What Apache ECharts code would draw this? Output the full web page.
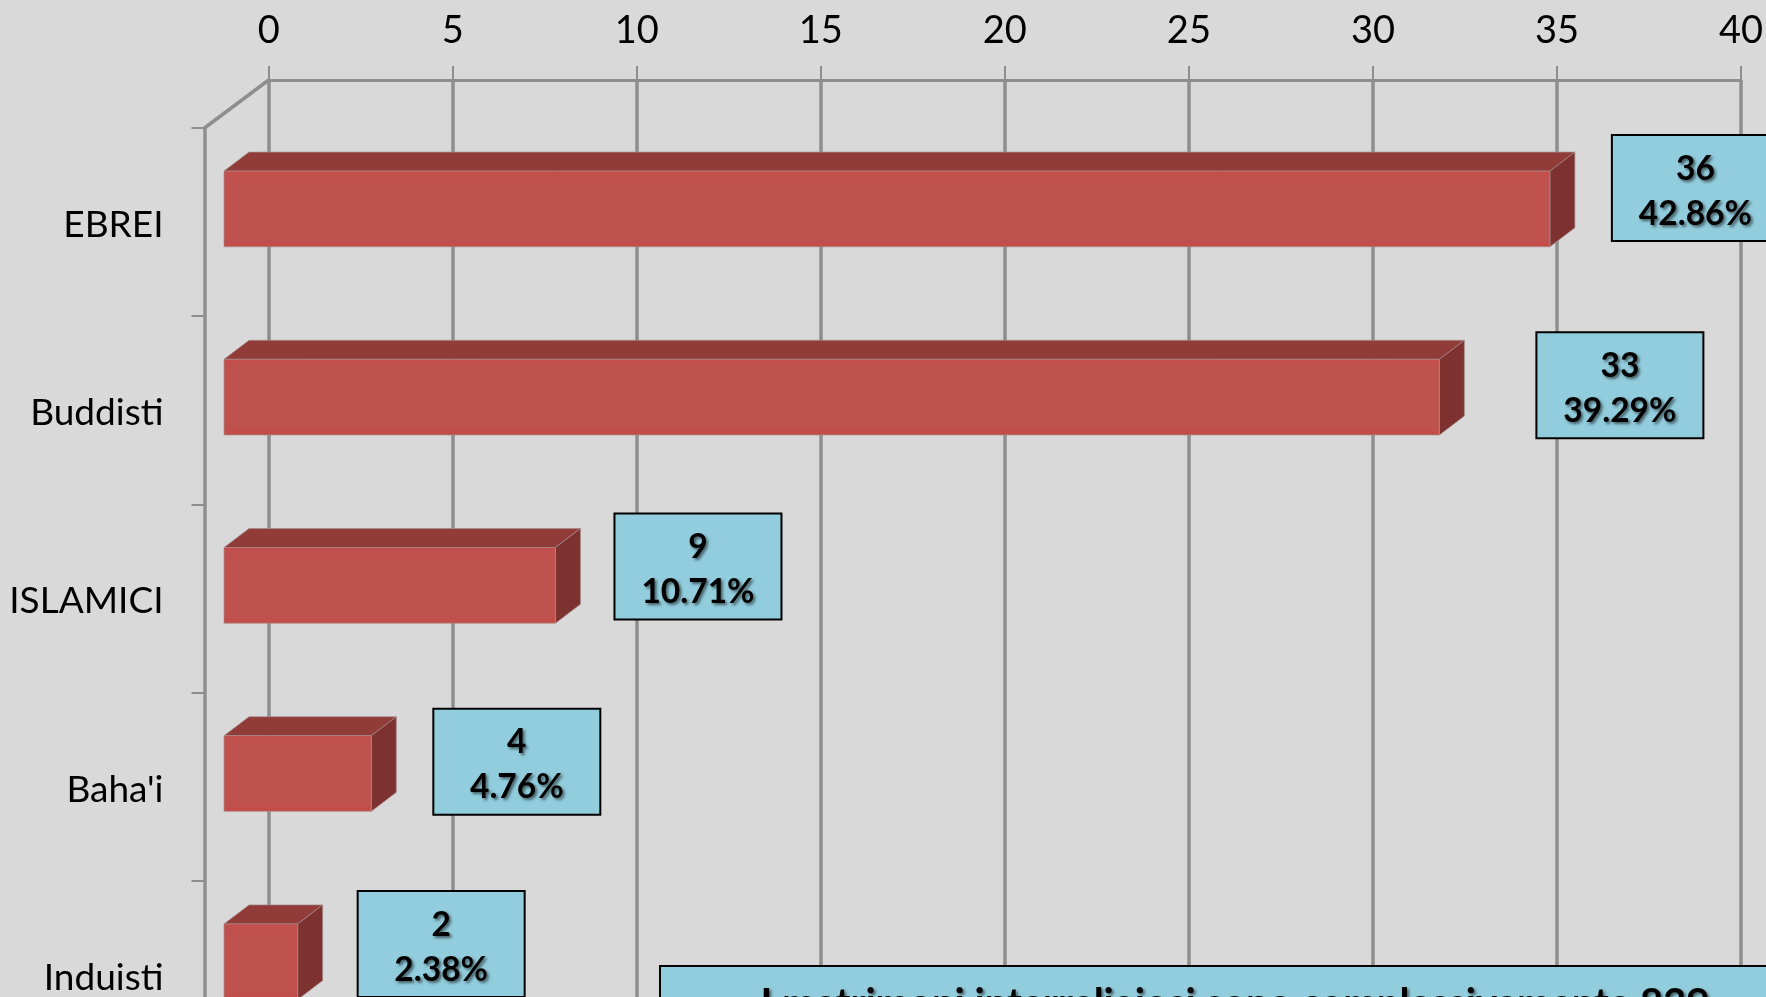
<!DOCTYPE html>
<html><head><meta charset="utf-8">
<style>html,body{margin:0;padding:0;background:#d9d9d9;overflow:hidden}#c{width:1766px;height:997px}</style>
<script src="https://cdn.jsdelivr.net/npm/echarts@6/dist/echarts.min.js"></script>
</head><body><div id="c"></div>
<script>
const categories = ['EBREI', 'Buddisti', 'ISLAMICI', "Baha'i", 'Induisti'];
const counts = [36, 33, 9, 4, 2];
const percents = ['42.86%', '39.29%', '10.71%', '4.76%', '2.38%'];
const noteText = 'I matrimoni interreligiosi sono complessivamente 839';

// hand placement of the callouts relative to the end of each bar
const calloutDx = [62, 97, 59, 62, 60];
const calloutDy = [-36, -27, -34, -27, -33];

const LINE = '#8e8e8e';
const FONT = 'Lato, Carlito, sans-serif';
const chart = echarts.init(document.getElementById('c'), null, {renderer: 'canvas'});

function renderBar(params, api) {
  const v = api.value(0), idx = api.value(1);
  const start = api.coord([0, idx]);
  const end = api.coord([v, idx]);
  const band = api.size([0, 1])[1];
  const h = band * 0.402, dx = 25, dy = -19;
  const x0 = start[0], x1 = end[0];
  const yT = start[1] - band * 0.07 - h / 2, yB = yT + h;
  const edge = 'rgba(165,140,140,0.7)';
  const bx = x1 + calloutDx[idx], by = yT + calloutDy[idx], bw = 167, bh = 106;
  const shadow = {textShadowColor: 'rgba(0,0,0,0.55)', textShadowBlur: 3, textShadowOffsetX: 2, textShadowOffsetY: 2,
                  shadowColor: 'rgba(0,0,0,0.55)', shadowBlur: 3, shadowOffsetX: 2, shadowOffsetY: 2};
  return {
    type: 'group',
    children: [
      {type: 'polygon', shape: {points: [[x0, yT], [x0 + dx, yT + dy], [x1 + dx, yT + dy], [x1, yT]]},
       style: {fill: '#913c39', stroke: edge, lineWidth: 1}},
      {type: 'polygon', shape: {points: [[x1, yT], [x1 + dx, yT + dy], [x1 + dx, yB + dy], [x1, yB]]},
       style: {fill: '#7e3230', stroke: edge, lineWidth: 1}},
      {type: 'rect', shape: {x: x0, y: yT, width: x1 - x0, height: h},
       style: {fill: new echarts.graphic.LinearGradient(0, 0, 0, 1, [
         {offset: 0, color: '#c54f4b'}, {offset: 0.12, color: '#bf514e'},
         {offset: 0.9, color: '#bf514e'}, {offset: 1, color: '#c54a44'}]),
         stroke: edge, lineWidth: 1}},
      {type: 'rect', z2: 10, shape: {x: bx, y: by, width: bw, height: bh},
       style: {fill: '#92cddd', stroke: '#000', lineWidth: 2}},
      {type: 'text', z2: 11, x: bx + bw / 2, y: by + 34,
       style: Object.assign({text: String(counts[idx]), font: 'bold 33.5px ' + FONT, fill: '#000', align: 'center', verticalAlign: 'middle'}, shadow)},
      {type: 'text', z2: 11, x: bx + bw / 2, y: by + 79,
       style: Object.assign({text: percents[idx], font: 'bold 33.5px ' + FONT, fill: '#000', align: 'center', verticalAlign: 'middle'}, shadow)}
    ]
  };
}

chart.setOption({
  animation: false,
  backgroundColor: '#d9d9d9',
  grid: [
    {left: 268.7, top: 80, width: 1472.3, height: 940, outerBoundsMode: 'none'},
    {left: 224, top: 128, width: 1473.2, height: 941, outerBoundsMode: 'none'}
  ],
  xAxis: [
    {gridIndex: 0, type: 'value', position: 'top', min: 0, max: 40, interval: 5,
     axisLine: {show: true, onZero: false, lineStyle: {color: LINE, width: 3}},
     axisTick: {show: true, length: 14, lineStyle: {color: LINE, width: 2}},
     axisLabel: {fontFamily: FONT, fontSize: 38, color: '#000', margin: 30},
     splitLine: {show: true, lineStyle: {color: LINE, width: 3.5}}},
    {gridIndex: 1, type: 'value', min: 0, max: 40, interval: 5, show: false}
  ],
  yAxis: [
    {gridIndex: 0, type: 'category', data: categories, inverse: true, show: false},
    {gridIndex: 1, type: 'category', data: categories, inverse: true, offset: 19.5,
     axisLine: {show: true, onZero: false, lineStyle: {color: LINE, width: 3.5}},
     axisTick: {show: true, length: 13, lineStyle: {color: LINE, width: 2}},
     axisLabel: {margin: 41, formatter: '{a|{value}}',
       rich: {a: {fontFamily: FONT, fontSize: 37, color: '#000', padding: [6, 0, 0, 0]}}},
     splitLine: {show: false}}
  ],
  series: [{
    type: 'custom', xAxisIndex: 1, yAxisIndex: 1, clip: false, z: 5,
    encode: {x: 0, y: 1},
    data: counts.map((c, i) => [c, i]),
    renderItem: renderBar
  }],
  graphic: [
    {type: 'line', z: 1, shape: {x1: 204.5, y1: 128, x2: 268.7, y2: 80}, style: {stroke: LINE, lineWidth: 3.5}},
    {type: 'rect', z: 20, shape: {x: 660, y: 966, width: 1150, height: 80}, style: {fill: '#92cddd', stroke: '#000', lineWidth: 2}},
    {type: 'text', z: 21, x: 1235, y: 984, style: {text: noteText, font: 'bold 40px ' + FONT, fill: '#000', align: 'center', verticalAlign: 'top',
      textShadowColor: 'rgba(0,0,0,0.55)', textShadowBlur: 3, textShadowOffsetX: 2, textShadowOffsetY: 2,
      shadowColor: 'rgba(0,0,0,0.55)', shadowBlur: 3, shadowOffsetX: 2, shadowOffsetY: 2}}
  ]
});
</script></body></html>
